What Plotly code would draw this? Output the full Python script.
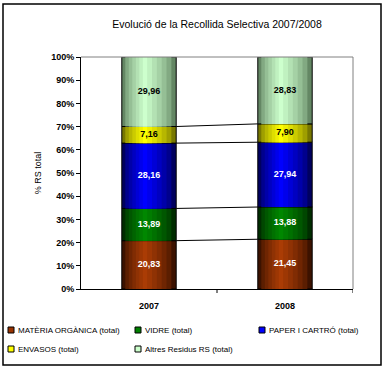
import plotly.graph_objects as go
import numpy as np

years = ["2007", "2008"]
series_names = ["MATÈRIA ORGÀNICA (total)", "VIDRE (total)", "PAPER I CARTRÓ (total)",
                "ENVASOS (total)", "Altres Residus RS (total)"]
mat_org = [20.83, 21.45]
vidre = [13.89, 13.88]
paper = [28.16, 27.94]
envasos = [7.16, 7.90]
altres = [29.96, 28.83]
y_ticks = [0, 10, 20, 30, 40, 50, 60, 70, 80, 90, 100]
y_tick_labels = [f"{v}%" for v in y_ticks]

values = [mat_org, vidre, paper, envasos, altres]
center_cols = [(170, 60, 5), (0, 135, 0), (0, 0, 255), (255, 255, 0), (205, 255, 205)]
edge_cols = [(60, 18, 0), (0, 45, 0), (0, 0, 95), (120, 120, 0), (100, 135, 100)]
legend_cols = ["#993300", "#008000", "#0000ff", "#ffff00", "#ccffcc"]
text_cols = ["white", "white", "white", "black", "black"]

FONT = "Liberation Sans, Arial, sans-serif"
fig = go.Figure()

N = 7
bw = 0.4
peak = 0.42
x_idx = [0, 1]
cum = np.zeros(2)
for si, (name, vals) in enumerate(zip(series_names, values)):
    vals = np.array(vals)
    for k in range(N):
        t = k / (N - 1)
        left = -bw / 2 + t * bw * peak * 0.92
        right = bw / 2 - t * bw * (1 - peak) * 0.92
        c = tuple(int(round(e + (cc - e) * (t ** 0.7))) for e, cc in zip(edge_cols[si], center_cols[si]))
        fig.add_trace(go.Bar(
            x=x_idx, y=vals, base=cum,
            width=right - left, offset=left,
            marker=dict(color=f"rgb{c}", line=dict(color="black", width=1 if k == 0 else 0)),
            name=name, showlegend=False, hoverinfo="skip",
        ))
    fig.add_trace(go.Scatter(
        x=x_idx, y=cum + vals / 2, mode="text",
        text=[f"{v:.2f}".replace(".", ",") for v in vals],
        textfont=dict(family=FONT, size=9, color=text_cols[si], weight="bold"),
        showlegend=False, hoverinfo="skip",
    ))
    cum = cum + vals

# series lines between bars
cum = np.zeros(2)
for vals in values[:-1]:
    cum = cum + np.array(vals)
    fig.add_shape(type="line", xref="x", yref="y",
                  x0=0 + bw / 2, x1=1 - bw / 2, y0=cum[0], y1=cum[1],
                  line=dict(color="black", width=1))

L, R, T, B = 81, 33, 57, 80
W, H = 386, 369
pw, ph = W - L - R, H - T - B

def px(x):
    return (x - L) / pw

def py(y):
    return (H - B - y) / ph

# outer border
fig.add_shape(type="rect", xref="paper", yref="paper",
              x0=px(3), x1=px(381), y0=py(365), y1=py(4),
              line=dict(color="black", width=1.5))
# top and right gray plot border
fig.add_shape(type="line", xref="paper", yref="paper", x0=0, x1=1, y0=1, y1=1,
              line=dict(color="#808080", width=1))
fig.add_shape(type="line", xref="paper", yref="paper", x0=1, x1=1, y0=0, y1=1,
              line=dict(color="#808080", width=1))
# x tick marks at category boundaries
for xb in [0.5, 1.5]:
    fig.add_shape(type="line", xref="x", yref="paper", x0=xb, x1=xb, y0=0, y1=-4 / ph,
                  line=dict(color="black", width=1))

# legend (manual, Excel style)
leg_pos = [(11, 330), (138, 330), (262, 330), (11, 349), (138, 349)]
for (lx, ly), name, col in zip(leg_pos, series_names, legend_cols):
    fig.add_shape(type="rect", xref="paper", yref="paper",
                  x0=px(lx - 3), x1=px(lx + 3), y0=py(ly + 3), y1=py(ly - 3),
                  fillcolor=col, line=dict(color="black", width=1))
    fig.add_annotation(xref="paper", yref="paper", x=px(lx + 5), y=py(ly),
                       xanchor="left", yanchor="middle", showarrow=False,
                       text=name, font=dict(family=FONT, size=8, color="black"))

fig.update_layout(
    width=W, height=H,
    margin=dict(l=L, r=R, t=T, b=B, autoexpand=False),
    barmode="overlay",
    showlegend=False,
    paper_bgcolor="white", plot_bgcolor="white",
    title=dict(text="Evolució de la Recollida Selectiva 2007/2008",
               x=0.5, xref="paper", xanchor="center", y=1 - 24 / H, yanchor="middle",
               font=dict(family=FONT, size=10.5, color="black")),
    xaxis=dict(range=[-0.5, 1.5], tickmode="array", tickvals=x_idx, ticktext=years,
               showline=True, linecolor="black", linewidth=1,
               ticks="", showgrid=False, zeroline=False,
               tickfont=dict(family=FONT, size=9, color="black", weight="bold"),
               ticklabelstandoff=8),
    yaxis=dict(range=[0, 100], tickmode="array", tickvals=y_ticks, ticktext=y_tick_labels,
               showline=True, linecolor="black", linewidth=1,
               ticks="outside", ticklen=4, tickcolor="black",
               showgrid=False, zeroline=False,
               tickfont=dict(family=FONT, size=9, color="black", weight="bold"),
               title=dict(text="% RS total", font=dict(family=FONT, size=9, color="black"),
                          standoff=8)),
)

fig.write_html("out.html", config={"displayModeBar": False},
               post_script="document.body.style.margin='0';document.body.style.overflow='hidden';")
